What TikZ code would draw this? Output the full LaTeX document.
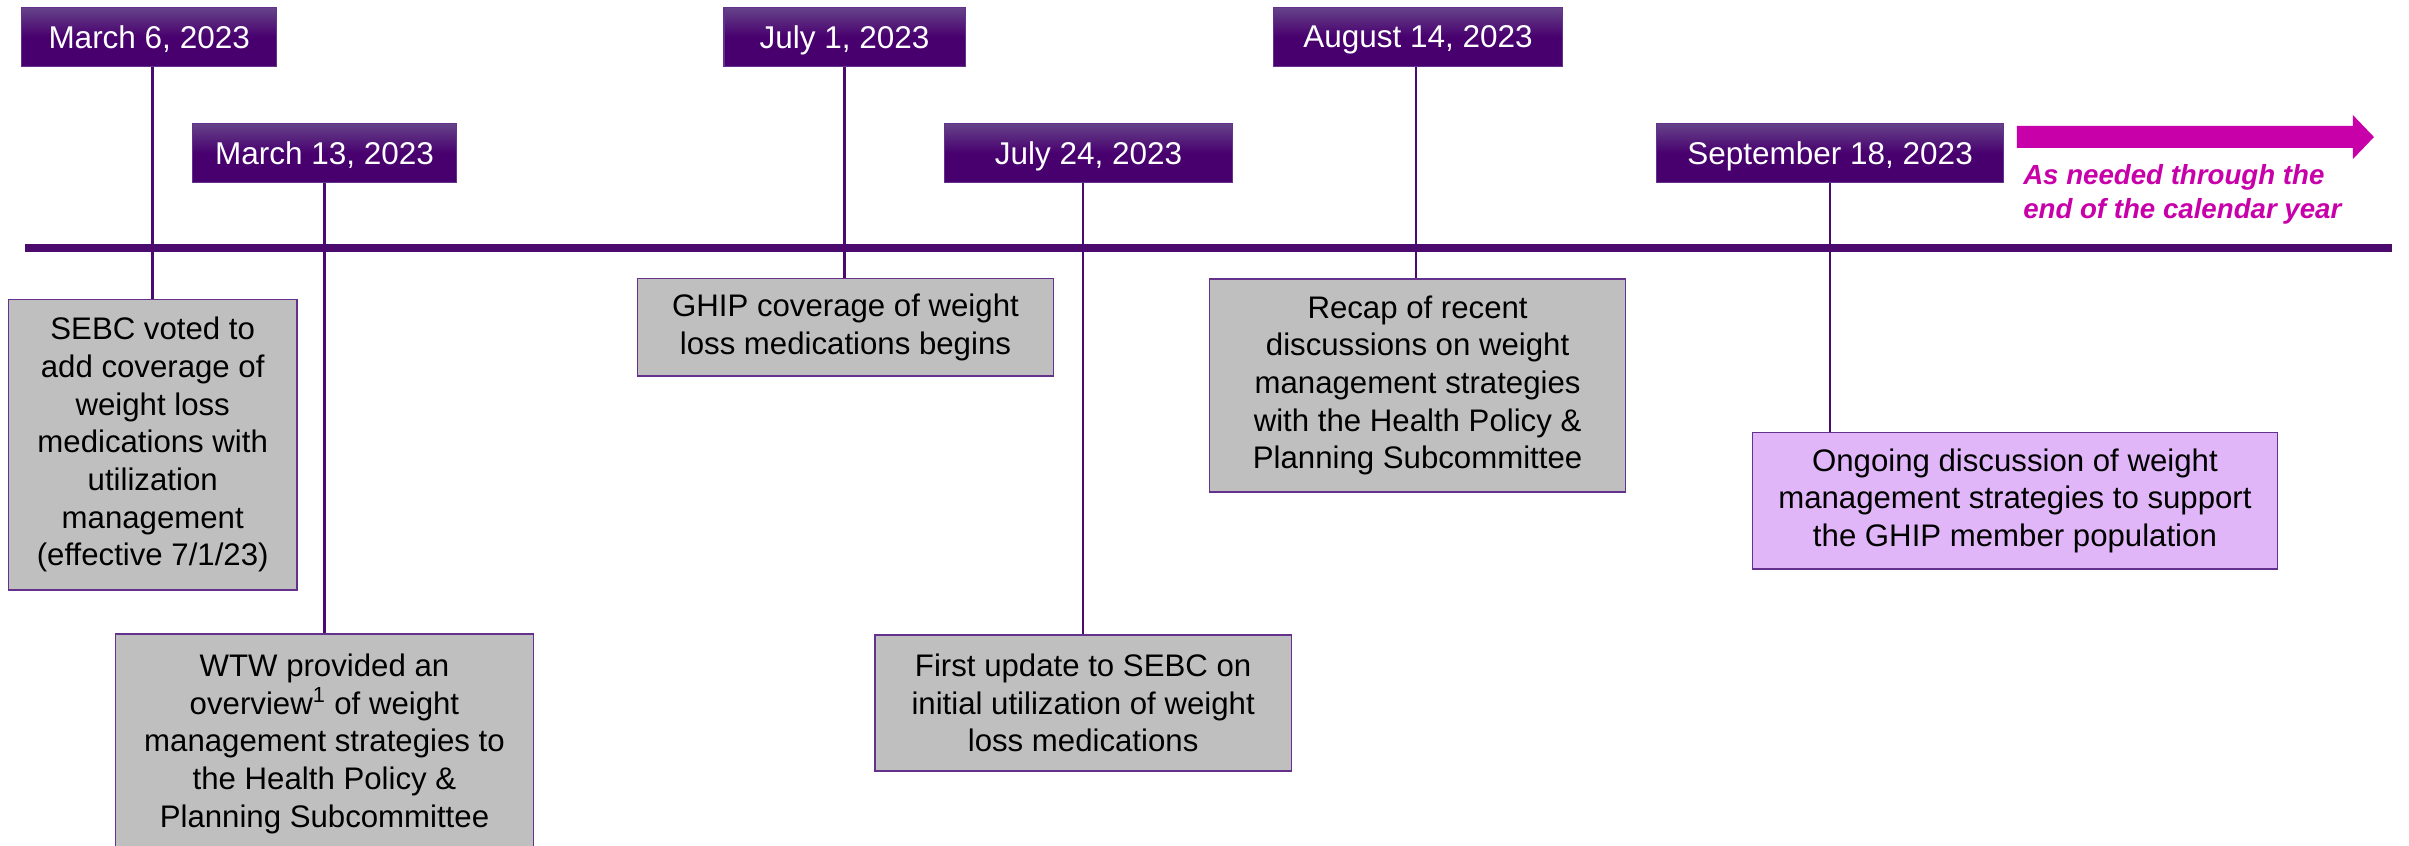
\documentclass[tikz,border=0pt]{standalone}
\usepackage{fontspec}
\setmainfont{Liberation Sans}
\usetikzlibrary{calc}
\definecolor{tlpurple}{RGB}{75,10,110}
\definecolor{boxborder}{RGB}{100,50,140}
\definecolor{datetop}{RGB}{102,68,138}
\definecolor{datebot}{RGB}{72,0,110}
\definecolor{evgray}{RGB}{191,191,191}
\definecolor{evlav}{RGB}{224,182,248}
\definecolor{magent}{RGB}{200,0,170}
\begin{document}
\begin{tikzpicture}[x=1pt,y=-1pt,
  datebox/.style={rectangle, draw=boxborder, line width=0.8pt,
    top color=datetop, bottom color=datebot, middle color=datebot,
    text=white, font=\fontsize{20.5}{24.5}\selectfont,
    inner sep=0pt, text depth=0pt, minimum height=38.5pt},
  evbox/.style={rectangle, draw=boxborder, line width=0.9pt, fill=evgray,
    align=center, font=\fontsize{20.3}{24.5}\selectfont, inner sep=0pt},
  link/.style={draw=tlpurple, line width=1.6pt},
  needtext/.style={text=magent, align=left, anchor=north west, inner sep=0pt,
    font=\fontsize{18}{22}\selectfont\bfseries\itshape}
]
\useasboundingbox (0,0) rectangle (1568,550);
\begin{scope}
\clip (0,0) rectangle (1568,550);

% timeline
\coordinate (tlL) at (16,161.3);
\coordinate (tlR) at (1557,161.3);
\draw[tlpurple, line width=5pt] (tlL) -- (tlR);

% date boxes
\node[datebox, minimum width=166pt] (d1) at (97.1,24) {March 6, 2023};
\node[datebox, minimum width=172pt] (d2) at (211.3,99.6) {March 13, 2023};
\node[datebox, minimum width=157pt] (d3) at (549.7,24) {July 1, 2023};
\node[datebox, minimum width=187pt] (d4) at (708.5,99.6) {July 24, 2023};
\node[datebox, minimum width=188pt] (d5) at (923,24) {August 14, 2023};
\node[datebox, minimum width=226pt] (d6) at (1191.2,99.6) {September 18, 2023};

% event boxes
\node[evbox, minimum width=188pt, minimum height=189pt] (e1) at (99.4,289.5)
  {SEBC voted to\\add coverage of\\weight loss\\medications with\\utilization\\management\\(effective 7/1/23)};
\node[evbox, minimum width=272pt, minimum height=143pt] (e2) at (211.2,484.2)
  {WTW provided an\\overview\textsuperscript{1} of weight\\management strategies to\\the Health Policy \&\\Planning Subcommittee};
\node[evbox, minimum width=271pt, minimum height=63.5pt] (e3) at (550.3,213)
  {GHIP coverage of weight\\loss medications begins};
\node[evbox, minimum width=271pt, minimum height=88.5pt] (e4) at (705,457.5)
  {First update to SEBC on\\initial utilization of weight\\loss medications};
\node[evbox, minimum width=271pt, minimum height=138.6pt] (e5) at (922.7,250.9)
  {Recap of recent\\discussions on weight\\management strategies\\with the Health Policy \&\\Planning Subcommittee};
\node[evbox, fill=evlav, minimum width=342pt, minimum height=88.7pt] (e6) at (1311.5,326)
  {Ongoing discussion of weight\\management strategies to support\\the GHIP member population};

% connectors
\draw[link] (e1.north |- d1.south) -- (e1.north);
\draw[link] (e2.north |- d2.south) -- (e2.north);
\draw[link] (d3.south) -- (d3.south |- e3.north);
\draw[link] (e4.north |- d4.south) -- (e4.north);
\draw[link] ($(d5.south)+(-1.5,0)$) -- ($(d5.south |- e5.north)+(-1.5,0)$);
\draw[link] (d6.south) -- (d6.south |- e6.north);

% arrow
\coordinate (arS) at (1312.8,89.2);
\coordinate (arT) at (1545.2,89.2);
\fill[magent] (1312.8,82) -- (1531.5,82) -- (1531.5,74.9) -- (arT)
  -- (1531.5,103.5) -- (1531.5,96.3) -- (1312.8,96.3) -- cycle;

\node[needtext] (need) at (1316.7,107) {As needed through the\\end of the calendar year};
\end{scope}
\end{tikzpicture}
\end{document}
